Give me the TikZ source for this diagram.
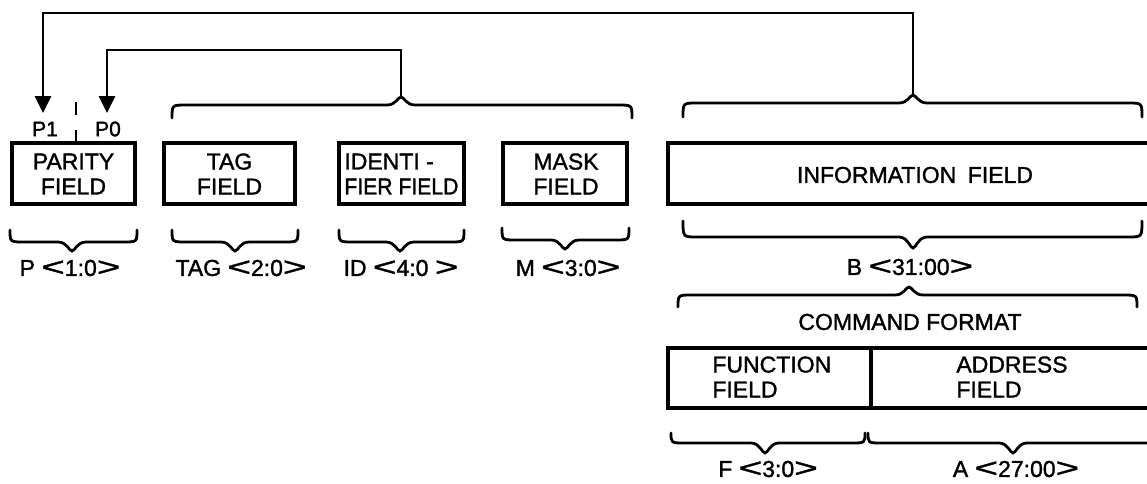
\documentclass[tikz,border=0pt]{standalone}
\usepackage{fontspec}
\setmainfont{Liberation Sans}[FakeBold=1.4]
\usetikzlibrary{arrows.meta,calc}
\tikzset{
  fbox/.style={draw, line width=1.7pt, inner sep=0pt},
  conn/.style={line width=1.4pt},
  brc/.style={line width=1.4pt, line cap=round},
  lbl/.style={font=\fontsize{11.5}{12.5}\selectfont, inner sep=0pt, align=center},
  arr/.style={conn, -{Triangle[length=8.5pt,width=8pt]}},
}
\newcommand\lang{\scalebox{1.75}[1.15]{<}}
\newcommand\rang{\scalebox{1.75}[1.15]{>}}
% box node: name, x1, y1, x2, y2 (pixel units)
\newcommand\fieldbox[5]{\node[fbox, minimum width={(#4-#2)*0.5pt}, minimum height={(#5-#3)*0.5pt}] (#1) at ({(#2+#4)/2},{(#3+#5)/2}) {};}
% brace: x1, x2, xtip, yend, yhoriz, ytip, tip-name
\newcommand\cbrace[7]{%
  \draw[brc] (#1,#4) .. controls (#1,#5) .. ({#1+14},#5) -- ({#3-14},#5)
    .. controls ({#3-5},#5) and ({#3-3},#6) .. (#3,#6) coordinate (#7)
    .. controls ({#3+3},#6) and ({#3+5},#5) .. ({#3+14},#5) -- ({#2-14},#5)
    .. controls (#2,#5) .. (#2,#4);}
\begin{document}
\begin{tikzpicture}[x=0.5pt,y=-0.5pt]
\useasboundingbox (0,0) rectangle (1147,483);
\clip (0,0) rectangle (1147,483);

% boxes
\fieldbox{par}{12}{143}{135}{204}
\fieldbox{tag}{164}{143}{295}{204}
\fieldbox{idf}{339}{143}{464}{204}
\fieldbox{msk}{503}{143}{627}{204}
\fieldbox{inf}{668}{143}{1175}{204}
\fieldbox{fun}{668}{348}{871}{408}
\fieldbox{adr}{871}{348}{1175}{408}

% box texts
\node[lbl] (tpar) at (73.5,174) {PARITY\\FIELD};
\node[lbl] (ttag) at (229.5,174) {TAG\\FIELD};
\node[lbl, align=left, anchor=west] (tidf) at (344,174) {IDENTI -\\\scalebox{0.92}[1]{FIER FIELD}};
\node[lbl] (tmsk) at (566,174) {MASK\\FIELD};
\node[lbl] (tinf) at (915,175) {INFORMATION\hspace{0.5em}FIELD};
\node[lbl, align=left, anchor=west] (tfun) at (712,377) {FUNCTION\\FIELD};
\node[lbl, align=left, anchor=west] (tadr) at (956,377) {ADDRESS\\FIELD};

% parity bit labels
\node[lbl, font=\fontsize{10.5}{12}\selectfont] (p1) at (45,129) {P1};
\node[lbl, font=\fontsize{10.5}{12}\selectfont] (p0) at (108,129) {P0};
\draw[conn] (76,102) -- (76,115);
\draw[conn] (76,130) -- (76,143);

% upper braces
\cbrace{172}{632}{401}{118}{105}{97}{grptip}
\cbrace{683}{1142}{913}{117}{103}{95}{inftip}
\cbrace{678}{1137}{909}{307}{295}{287}{cmdtip}

% lower braces
\cbrace{10}{137}{72}{230}{242}{251}{ptip}
\cbrace{172}{298}{235}{230}{242}{251}{tagtip}
\cbrace{339}{464}{400}{230}{242}{251}{idtip}
\cbrace{502}{629}{565}{228}{240}{249}{mtip}
\cbrace{683}{1142}{913}{221}{237}{248}{btip}
\cbrace{671}{865}{765}{433}{443}{453}{ftip}
\cbrace{868}{1158}{1013}{433}{443}{453}{atip}

% lower labels
\node[lbl] (lp) at (70,268) {P \lang1:0\rang};
\node[lbl] (ltag) at (241,268) {TAG \lang2:0\rang};
\node[lbl] (lid) at (401,268) {ID \lang4:0 \rang};
\node[lbl] (lm) at (568,268) {M \lang3:0\rang};
\node[lbl] (lb) at (910,267) {B \lang31:00\rang};
\node[lbl] (lcmd) at (910,322) {COMMAND FORMAT};
\node[lbl] (lf) at (768,469) {F \lang3:0\rang};
\node[lbl] (la) at (1016,469) {A \lang27:00\rang};

% connectors
\coordinate (ytop) at (0,13);
\coordinate (ymid) at (0,50);
\coordinate (aP1) at (43,113);
\coordinate (aP0) at (107,113);
\draw[arr] (inftip) -- (inftip |- ytop) -| (aP1);
\draw[arr] (grptip) -- (grptip |- ymid) -| (aP0);
\end{tikzpicture}
\end{document}
